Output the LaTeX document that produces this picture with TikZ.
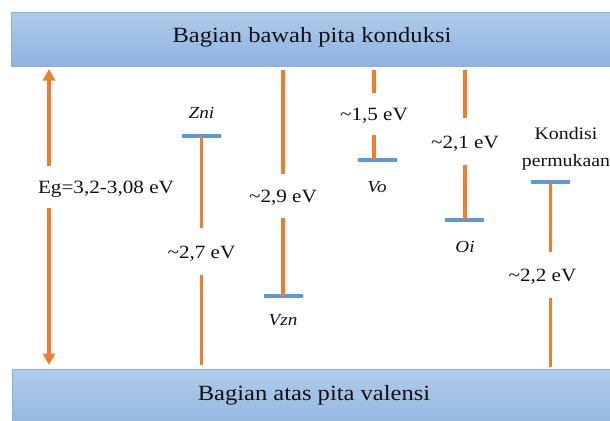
\documentclass[tikz,border=0pt]{standalone}
\usepackage{fontspec}
\setmainfont{Liberation Serif}[FakeStretch=1.13]
\usetikzlibrary{arrows.meta}
\definecolor{eorange}{HTML}{ED7D31}
\definecolor{lblue}{HTML}{5B9BD5}
\definecolor{bandtop}{HTML}{B0CBE9}
\definecolor{bandbot}{HTML}{8DB3E1}
\definecolor{bandedge}{HTML}{8AB1E0}
\definecolor{txt}{HTML}{111111}
\begin{document}
\begin{tikzpicture}[x=1bp,y=-1bp,
  band/.style={draw=bandedge, line width=1bp, top color=bandtop, bottom color=bandbot, minimum width=608bp, inner sep=0pt},
  bandtxt/.style={text=txt, font=\fontsize{21.8}{24}\selectfont, inner sep=0pt, anchor=base},
  elabel/.style={text=txt, font=\fontsize{18.8}{21}\selectfont, inner sep=0pt, text height=13bp, text depth=0pt, minimum height=#1},
  spec/.style={text=txt, font=\fontsize{17}{19}\itshape, inner sep=0pt, text height=11bp, text depth=0pt},
  level/.style={fill=lblue, draw=none, minimum width=39bp, minimum height=3.8bp, inner sep=0pt},
  eline/.style={draw=eorange, line width=3.4bp},
  earrow/.style={eline, -{Triangle[width=12bp,length=11.5bp]}},
]
\useasboundingbox (0,0) rectangle (610,420);

% bands
\node[band, minimum height=54bp] (cb) at (316,39) {};
\node[band, minimum height=70bp] (vb) at (317,404) {};
\node[bandtxt] (cbt) at (312,42) {Bagian bawah pita konduksi};
\node[bandtxt] (vbt) at (314,400) {Bagian atas pita valensi};

% band gap arrow
\coordinate (egx) at (49,0);
\node[elabel=42bp] (eg) at (106,187) {Eg=3,2-3,08 eV};
\draw[earrow, shorten >=2.5bp] (egx |- eg.north) -- (egx |- cb.south);
\draw[earrow, shorten >=3.5bp] (egx |- eg.south) -- (egx |- vb.north);

% Zni
\node[spec] (znil) at (201.5,112.5) {Zni};
\node[level] (zni) at (201.5,136) {};
\node[elabel=47bp] (e27) at (201.5,251.5) {\textasciitilde2,7 eV};
\draw[eline] (zni.center) -- (e27.north);
\draw[eline, shorten >=3.5bp] (e27.south) -- (e27.south |- vb.north);

% Vzn
\node[elabel=44bp] (e29) at (283,196) {\textasciitilde2,9 eV};
\node[level] (vzn) at (283,296) {};
\node[spec] (vznl) at (283,320) {Vzn};
\draw[eline, shorten <=3bp] (e29.north |- cb.south) -- (e29.north);
\draw[eline] (e29.south) -- (vzn.center);

% Vo
\node[elabel=42bp] (e15) at (374,114) {\textasciitilde1,5 eV};
\node[level] (vo) at (377,160) {};
\node[spec] (vol) at (377,186.5) {Vo};
\draw[eline, shorten <=3bp] (e15.north |- cb.south) -- (e15.north);
\draw[eline] (e15.south) -- (e15.south |- vo.center);

% Oi
\node[elabel=47bp] (e21) at (465,141.5) {\textasciitilde2,1 eV};
\node[level] (oi) at (464,220) {};
\node[spec] (oil) at (465,246.5) {Oi};
\draw[eline, shorten <=3bp] (e21.north |- cb.south) -- (e21.north);
\draw[eline] (e21.south) -- (e21.south |- oi.center);

% Kondisi permukaan
\node[text=txt, font=\fontsize{17.6}{27}\selectfont, align=center, inner sep=0pt] (kond) at (566,148.4) {Kondisi\\permukaan};
\node[level] (ks) at (550.5,182) {};
\node[elabel=46bp] (e22) at (542.5,275) {\textasciitilde2,2 eV};
\draw[eline] (ks.center) -- (ks.center |- e22.north);
\draw[eline, shorten >=1.5bp] (ks.center |- e22.south) -- (ks.center |- vb.north);
\end{tikzpicture}
\end{document}
